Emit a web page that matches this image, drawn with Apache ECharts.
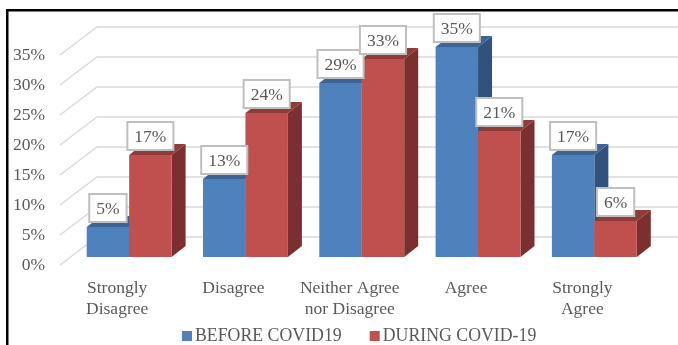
<!DOCTYPE html>
<html>
<head>
<meta charset="utf-8">
<style>
  html, body { margin: 0; padding: 0; background: #fff; }
  #chart { width: 678px; height: 345px; }
</style>
<script src="https://cdn.jsdelivr.net/npm/echarts@6/dist/echarts.min.js"></script>
</head>
<body>
<div id="chart"></div>
<script>
const categories = ['Strongly\nDisagree', 'Disagree', 'Neither Agree\nnor Disagree', 'Agree', 'Strongly\nAgree'];
const beforeCovid = [5, 13, 29, 35, 17];
const duringCovid = [17, 24, 33, 21, 6];
const axisTicks = [0, 5, 10, 15, 20, 25, 30, 35];

const FONT = '"Liberation Serif", "Times New Roman", serif';
const TEXT = '#595959';
// Oblique projection: wall behind the plot, bar row inside it, and bar depth.
const WALL = [37, -28];
const ROW = [11, -8];
const DEPTH = [14, -11];
const BAR_SHARE = 0.365;

const palette = {
  blue: { front: '#4f81bd', top: '#3c6494', side: '#30527c' },
  red: { front: '#c0504d', top: '#8f3b39', side: '#7b2f2e' }
};

function poly(points, fill) {
  return { type: 'polygon', shape: { points }, style: { fill }, silent: true };
}

function barItem(side, tone) {
  return function (params, api) {
    const [cx, y] = api.coord([api.value(0), api.value(1)]);
    const [, y0] = api.coord([api.value(0), 0]);
    const w = api.size([1, 0])[0] * BAR_SHARE;
    const xa = cx + ROW[0] + (side < 0 ? -w : 0);
    const xb = xa + w;
    const yt = y + ROW[1];
    const yb = y0 + ROW[1];
    return {
      type: 'group',
      children: [
        poly([[xb, yt], [xb + DEPTH[0], yt + DEPTH[1]], [xb + DEPTH[0], yb + DEPTH[1]], [xb, yb]], tone.side),
        poly([[xa, yt], [xa + DEPTH[0], yt + DEPTH[1]], [xb + DEPTH[0], yt + DEPTH[1]], [xb, yt]], tone.top),
        poly([[xa, yt], [xb, yt], [xb, yb], [xa, yb]], tone.front)
      ]
    };
  };
}

function labelItem(side) {
  return function (params, api) {
    const [cx, y] = api.coord([api.value(0), api.value(1)]);
    const w = api.size([1, 0])[0] * BAR_SHARE;
    return {
      type: 'text',
      silent: true,
      style: {
        x: cx + ROW[0] + side * w / 2,
        y: y + ROW[1] - 6,
        text: api.value(1) + '%',
        align: 'center',
        verticalAlign: 'bottom',
        font: '17.5px ' + FONT,
        fill: TEXT,
        backgroundColor: '#fff',
        borderColor: '#bfbfbf',
        borderWidth: 2,
        padding: [5, 6, 3, 6]
      }
    };
  };
}

function wallItem(params, api) {
  const [x, y] = api.coord([0, api.value(0)]);
  const left = x - api.size([1, 0])[0] / 2;
  const width = api.size([1, 0])[0] * categories.length;
  return {
    type: 'polyline',
    silent: true,
    shape: {
      points: [[left, y], [left + WALL[0], y + WALL[1]], [left + WALL[0] + width, y + WALL[1]]]
    },
    style: { fill: 'none', stroke: '#d9d9d9', lineWidth: 1.4 }
  };
}

const pairs = values => values.map((v, i) => [i, v]);

const chart = echarts.init(document.getElementById('chart'), null, { renderer: 'canvas' });
chart.setOption({
  animation: false,
  backgroundColor: '#fff',
  grid: { left: 60, top: 55, width: 581.5, height: 210 },
  xAxis: {
    type: 'category',
    data: categories,
    axisLine: { show: false },
    axisTick: { show: false },
    axisLabel: { interval: 0, margin: 13, padding: [0, 2, 0, 0], fontFamily: FONT, fontSize: 17.5, lineHeight: 21, color: TEXT }
  },
  yAxis: {
    type: 'value',
    min: 0,
    max: 35,
    interval: 5,
    axisLine: { show: false },
    axisTick: { show: false },
    splitLine: { show: false },
    axisLabel: { formatter: '{value}%', margin: 15, fontFamily: FONT, fontSize: 17.5, color: TEXT }
  },
  legend: {
    left: 182,
    top: 327,
    itemWidth: 10,
    itemHeight: 10,
    itemGap: 28,
    icon: 'rect',
    padding: 0,
    data: ['BEFORE COVID19', 'DURING COVID-19'],
    textStyle: { fontFamily: FONT, fontSize: 17.8, color: TEXT, padding: [0, 0, 0, -2] }
  },
  graphic: [
    { type: 'rect', shape: { x: 6, y: 9, width: 672, height: 2.5 }, style: { fill: '#000' } },
    { type: 'rect', shape: { x: 6, y: 9, width: 2.5, height: 336 }, style: { fill: '#000' } }
  ],
  series: [
    { type: 'custom', name: 'walls', z: 1, clip: false, renderItem: wallItem, data: axisTicks.map(t => [t]), encode: { y: 0 }, silent: true, tooltip: { show: false } },
    { type: 'custom', name: 'BEFORE COVID19', z: 2, clip: false, itemStyle: { color: palette.blue.front }, renderItem: barItem(-1, palette.blue), data: pairs(beforeCovid), encode: { x: 0, y: 1 } },
    { type: 'custom', name: 'DURING COVID-19', z: 3, clip: false, itemStyle: { color: palette.red.front }, renderItem: barItem(1, palette.red), data: pairs(duringCovid), encode: { x: 0, y: 1 } },
    { type: 'custom', name: 'before labels', z: 4, clip: false, renderItem: labelItem(-1), data: pairs(beforeCovid), encode: { x: 0, y: 1 }, silent: true },
    { type: 'custom', name: 'during labels', z: 5, clip: false, renderItem: labelItem(1), data: pairs(duringCovid), encode: { x: 0, y: 1 }, silent: true }
  ]
});
</script>
</body>
</html>
